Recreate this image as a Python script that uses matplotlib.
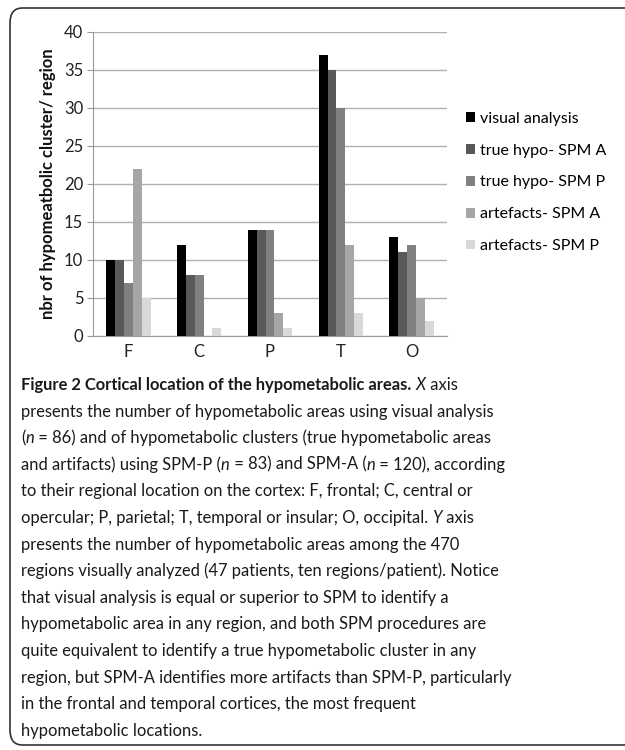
import matplotlib
matplotlib.use("Agg")
import numpy as np
import matplotlib.pyplot as plt
from matplotlib.patches import FancyBboxPatch

# ---------------------------------------------------------
# DATA
# ---------------------------------------------------------
regions = ["F", "C", "P", "T", "O"]
series_names = ["visual analysis", "true hypo- SPM A", "true hypo- SPM P",
                "artefacts- SPM A", "artefacts- SPM P"]
visual = [10, 12, 14, 37, 13]
true_spm_a = [10, 8, 14, 35, 11]
true_spm_p = [7, 8, 14, 30, 12]
artef_spm_a = [22, 0, 3, 12, 5]
artef_spm_p = [5, 1, 1, 3, 2]
colors = ["#000000", "#595959", "#808080", "#a6a6a6", "#d9d9d9"]
y_ticks = [0, 5, 10, 15, 20, 25, 30, 35, 40]

# caption lines: list of (text, style) runs
caption = [
    [("Figure 2 Cortical location of the hypometabolic areas.", "bold"), (" ", "normal"),
     ("X", "italic"), (" axis", "normal")],
    [("presents the number of hypometabolic areas using visual analysis", "normal")],
    [("(", "normal"), ("n", "italic"), (" = 86) and of hypometabolic clusters (true hypometabolic areas", "normal")],
    [("and artifacts) using SPM-P (", "normal"), ("n", "italic"), (" = 83) and SPM-A (", "normal"),
     ("n", "italic"), (" = 120), according", "normal")],
    [("to their regional location on the cortex: F, frontal; C, central or", "normal")],
    [("opercular; P, parietal; T, temporal or insular; O, occipital.", "normal"), (" ", "normal"),
     ("Y", "italic"), (" axis", "normal")],
    [("presents the number of hypometabolic areas among the 470", "normal")],
    [("regions visually analyzed (47 patients, ten regions/patient). Notice", "normal")],
    [("that visual analysis is equal or superior to SPM to identify a", "normal")],
    [("hypometabolic area in any region, and both SPM procedures are", "normal")],
    [("quite equivalent to identify a true hypometabolic cluster in any", "normal")],
    [("region, but SPM-A identifies more artifacts than SPM-P, particularly", "normal")],
    [("in the frontal and temporal cortices, the most frequent", "normal")],
    [("hypometabolic locations.", "normal")],
]

plt.rcParams["font.family"] = ["Lato", "DejaVu Sans"]

W, H = 625, 750
fig = plt.figure(figsize=(W / 100, H / 100), dpi=100)

# outer rounded frame
frame = FancyBboxPatch((10 / W, 5 / H), 700 / W, 737 / H,
                       boxstyle="round,pad=0,rounding_size=0.02",
                       transform=fig.transFigure, fill=False,
                       edgecolor="#333333", linewidth=1.2)
fig.patches.append(frame)

# ---------------------------------------------------------
# BAR CHART
# ---------------------------------------------------------
ax = fig.add_axes([93 / W, 1 - 336 / H, (447 - 93) / W, (336 - 32) / H])
all_series = [visual, true_spm_a, true_spm_p, artef_spm_a, artef_spm_p]
x = np.arange(len(regions))
bw = 0.125
for i, (vals, name) in enumerate(zip(all_series, series_names)):
    ax.bar(x + (i - 2) * bw, vals, width=bw, color=colors[i], label=name, zorder=3)

ax.set_xlim(-0.5, len(regions) - 0.5)
ax.set_ylim(0, 40)
ax.set_yticks(y_ticks)
ax.set_xticks(x)
ax.set_xticklabels(regions)
ax.tick_params(axis="both", labelsize=12, colors="#222222")
ax.tick_params(axis="y", length=4, color="#999999", pad=3)
ax.tick_params(axis="x", length=0, pad=6)
ax.grid(axis="y", color="#b0b0b0", linewidth=1, zorder=0)
for s in ["top", "right"]:
    ax.spines[s].set_visible(False)
ax.spines["left"].set_color("#999999")
ax.spines["bottom"].set_color("#999999")
ax.set_ylabel("nbr of hypomeatbolic cluster/ region", fontsize=12,
              fontweight="bold", labelpad=6, color="#111111")

ax.legend(loc="center left", bbox_to_anchor=(1.055, 0.505), frameon=False,
          fontsize=11.5, handlelength=0.55, handleheight=0.55, handletextpad=0.3,
          labelspacing=1.12, borderpad=0, borderaxespad=0)

# ---------------------------------------------------------
# CAPTION
# ---------------------------------------------------------
fig.canvas.draw()
renderer = fig.canvas.get_renderer()
fs = 11.9
y0 = 385
dy = 26.6
for li, runs in enumerate(caption):
    xpos = 21 / W
    ypos = 1 - (y0 + li * dy) / H
    for txt, style in runs:
        kw = {}
        if style == "bold":
            kw["fontweight"] = "bold"
        if style == "italic":
            kw["fontstyle"] = "italic"
        t = fig.text(xpos, ypos, txt, fontsize=fs, va="center", ha="left",
                     color="#1a1a1a", **kw)
        bb = t.get_window_extent(renderer)
        xpos += bb.width / W

fig.savefig("out.png", dpi=100)
